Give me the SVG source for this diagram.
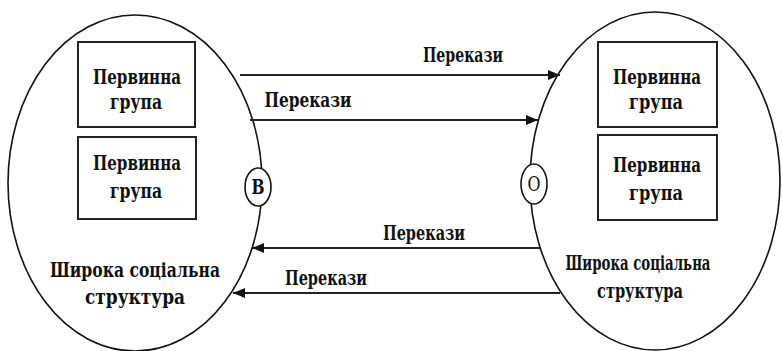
<svg xmlns="http://www.w3.org/2000/svg" width="782" height="351" viewBox="0 0 782 351">
<style>
.sh{fill:none;stroke:#111;stroke-width:1.6}
.bx{fill:#fff;stroke:#222;stroke-width:2}
.t{font-family:"DejaVu Serif Condensed","DejaVu Serif","Liberation Serif",serif;font-stretch:condensed;font-weight:700;font-size:20px;fill:#111;text-anchor:middle}
.b{font-size:21px}
.ln{stroke:#222;stroke-width:2;fill:none}
</style>
<defs>
<marker id="ah" viewBox="0 0 12 10" refX="12" refY="5" markerWidth="12" markerHeight="10" markerUnits="userSpaceOnUse" orient="auto">
<path d="M0,0 L12,5 L0,10 Z" fill="#111"/>
</marker>
</defs>
<rect width="782" height="351" fill="#fff"/>
<g id="left">
<ellipse class="sh" cx="135" cy="183" rx="127" ry="168"/>
<text class="t b" x="135" y="277" textLength="170" lengthAdjust="spacingAndGlyphs">Широка соціальна</text>
<text class="t b" x="135" y="304" textLength="100" lengthAdjust="spacingAndGlyphs">структура</text>
</g>
<g id="right">
<ellipse class="sh" cx="655" cy="181" rx="125" ry="169"/>
<text class="t b" x="638" y="270" textLength="145" lengthAdjust="spacingAndGlyphs">Широка соціальна</text>
<text class="t b" x="640" y="298" textLength="86" lengthAdjust="spacingAndGlyphs">структура</text>
</g>
<g id="left-box1">
<rect class="bx" x="78" y="42" width="117" height="85"/>
<text class="t" x="137" y="84" textLength="88" lengthAdjust="spacingAndGlyphs">Первинна</text>
<text class="t" x="136" y="109" textLength="52" lengthAdjust="spacingAndGlyphs">група</text>
</g>
<g id="left-box2">
<rect class="bx" x="78" y="137" width="118" height="82"/>
<text class="t" x="137" y="170" textLength="88" lengthAdjust="spacingAndGlyphs">Первинна</text>
<text class="t" x="136" y="198" textLength="52" lengthAdjust="spacingAndGlyphs">група</text>
</g>
<g id="right-box1">
<rect class="bx" x="598" y="42" width="119" height="85"/>
<text class="t" x="657" y="84" textLength="88" lengthAdjust="spacingAndGlyphs">Первинна</text>
<text class="t" x="656" y="109" textLength="54" lengthAdjust="spacingAndGlyphs">група</text>
</g>
<g id="right-box2">
<rect class="bx" x="598" y="135" width="119" height="85"/>
<text class="t" x="657" y="172" textLength="88" lengthAdjust="spacingAndGlyphs">Первинна</text>
<text class="t" x="656" y="200" textLength="54" lengthAdjust="spacingAndGlyphs">група</text>
</g>
<g id="b-node">
<ellipse cx="258" cy="187" rx="13" ry="19" fill="#fff" stroke="#111" stroke-width="1.6"/>
<text class="t" x="258" y="194" textLength="13" lengthAdjust="spacingAndGlyphs">В</text>
</g>
<g id="o-node">
<ellipse cx="534" cy="184" rx="13" ry="20" fill="#fff" stroke="#111" stroke-width="1.6"/>
<text class="t" x="534" y="191" style="font-weight:normal" textLength="13" lengthAdjust="spacingAndGlyphs">О</text>
</g>
<g id="connectors">
<line class="ln" x1="240" y1="75" x2="560" y2="75" marker-end="url(#ah)"/>
<line class="ln" x1="250" y1="120" x2="538" y2="120" marker-end="url(#ah)"/>
<line class="ln" x1="540" y1="248" x2="252" y2="248" marker-end="url(#ah)"/>
<line class="ln" x1="560" y1="293" x2="233" y2="293" marker-end="url(#ah)"/>
</g>
<g id="labels">
<text class="t" x="463" y="62" textLength="80" lengthAdjust="spacingAndGlyphs">Перекази</text>
<text class="t" x="308" y="107" textLength="87" lengthAdjust="spacingAndGlyphs">Перекази</text>
<text class="t" x="424" y="240" textLength="82" lengthAdjust="spacingAndGlyphs">Перекази</text>
<text class="t" x="326" y="285" textLength="82" lengthAdjust="spacingAndGlyphs">Перекази</text>
</g>
</svg>
